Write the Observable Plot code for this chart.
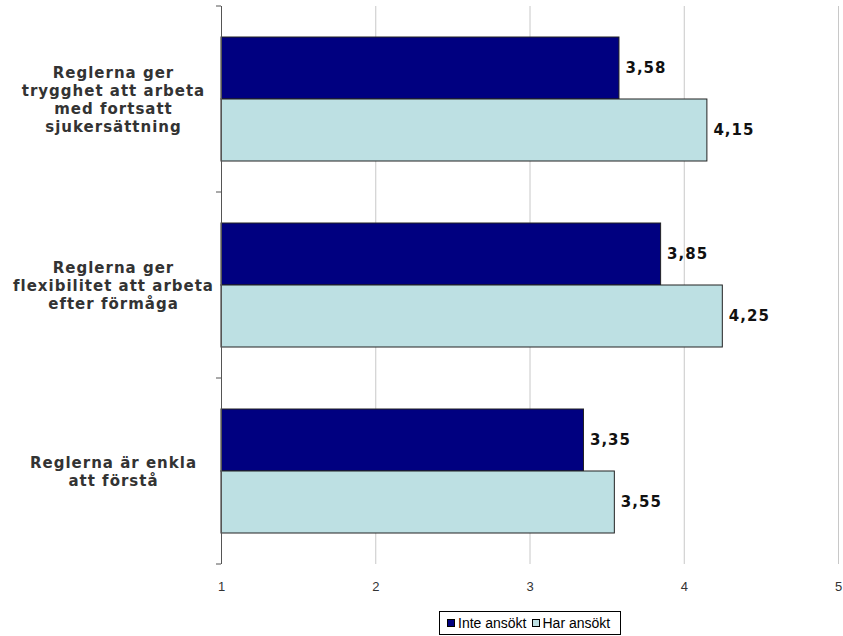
<!DOCTYPE html>
<html>
<head>
<meta charset="utf-8">
<script src="https://cdn.jsdelivr.net/npm/d3@7"></script>
<script src="https://cdn.jsdelivr.net/npm/@observablehq/plot@0.6"></script>
<style>
  body { margin: 0; background: #fff; }
  #wrap { position: relative; width: 843px; height: 636px; }
  #legend {
    position: absolute; left: 439px; top: 611px; width: 182px; height: 24px;
    border: 1px solid #000; box-sizing: border-box;
    font-family: "Liberation Sans", Arial, sans-serif; font-size: 14px; color: #000;
    display: flex; align-items: center; padding-left: 7px; white-space: nowrap;
  }
  #legend .sw { display: inline-block; width: 8px; height: 8px; border: 1px solid #000; margin-right: 3px; box-sizing: border-box; }
  #legend .item { display: inline-flex; align-items: center; margin-right: 5px; }
</style>
</head>
<body>
<div id="wrap"><div id="chart"></div><div id="legend"></div></div>
<script>
const categories = [
  "Reglerna ger trygghet att arbeta med fortsatt sjukersättning",
  "Reglerna ger flexibilitet att arbeta efter förmåga",
  "Reglerna är enkla att förstå"
];
const categoryLines = [
  "Reglerna ger\ntrygghet att arbeta\nmed fortsatt\nsjukersättning",
  "Reglerna ger\nflexibilitet att arbeta\nefter förmåga",
  "Reglerna är enkla\natt förstå"
];
const seriesNames = ["Inte ansökt", "Har ansökt"];
const inteAnsokt = [3.58, 3.85, 3.35];
const harAnsokt = [4.15, 4.25, 3.55];
const xTicks = [1, 2, 3, 4, 5];
const colors = ["#000080", "#bde0e3"];

const rows = [];
categories.forEach((c, i) => {
  rows.push({category: c, series: seriesNames[0], value: inteAnsokt[i]});
  rows.push({category: c, series: seriesNames[1], value: harAnsokt[i]});
});
const fmt = v => d3.format(".2f")(v).replace(".", ",");

const W = 843, H = 606, mL = 221, mR = 5, mT = 6, mB = 42;

const chart = Plot.plot({
  width: W, height: H,
  marginLeft: mL, marginRight: mR, marginTop: mT, marginBottom: mB,
  style: {fontFamily: "'Liberation Sans', Arial, sans-serif", background: "#fff"},
  x: {domain: [1, 5], ticks: xTicks, label: null, tickFormat: "d"},
  y: {domain: seriesNames, paddingInner: 0, paddingOuter: 0.5, axis: null},
  fy: {domain: categories, padding: 0, axis: null},
  color: {domain: seriesNames, range: colors},
  marks: [
    Plot.gridX(xTicks.slice(1), {stroke: "#c8c8c8", strokeOpacity: 1}),
    Plot.barX(rows, {x1: 1, x2: "value", y: "series", fy: "category", fill: "series", stroke: "#222", strokeWidth: 1}),
    Plot.ruleX([1], {stroke: "#555", strokeWidth: 1}),
    Plot.text(rows, {x: "value", y: "series", fy: "category", text: d => fmt(d.value),
      dx: 6, textAnchor: "start", fontWeight: "bold", fontSize: 15, fill: "#111",
      fontFamily: "'DejaVu Sans', Verdana, sans-serif"}),
    Plot.text(categories, {fy: d => d, text: (d, i) => categoryLines[i], frameAnchor: "left",
      dx: -108, textAnchor: "middle", lineAnchor: "middle", lineHeight: 1.2,
      fontWeight: "bold", fontSize: 15, fill: "#333",
      fontFamily: "'DejaVu Sans', Verdana, sans-serif"}),
    Plot.axisX(xTicks, {anchor: "bottom", tickSize: 0, tickPadding: 17, fontSize: 13, color: "#333", tickFormat: "d", label: null})
  ]
});

const svg = d3.select(chart);
// wider letter spacing on the bold labels, as in the reference
svg.selectAll('g[aria-label="text"]').style("letter-spacing", "1px");

// left axis tick marks at the facet boundaries, from the fy scale
const fy = chart.scale("fy");
const bounds = categories.map(c => fy.apply(c)).concat([fy.apply(categories[categories.length - 1]) + fy.bandwidth]);
svg.append("g").selectAll("line").data(bounds).join("line")
  .attr("x1", mL - 5).attr("x2", mL).attr("y1", d => d).attr("y2", d => d)
  .attr("stroke", "#555").attr("stroke-width", 1);

document.getElementById("chart").appendChild(chart);

const legend = document.getElementById("legend");
seriesNames.forEach((s, i) => {
  const item = document.createElement("span");
  item.className = "item";
  const sw = document.createElement("span");
  sw.className = "sw";
  sw.style.background = colors[i];
  item.appendChild(sw);
  item.appendChild(document.createTextNode(s));
  legend.appendChild(item);
});
</script>
</body>
</html>
